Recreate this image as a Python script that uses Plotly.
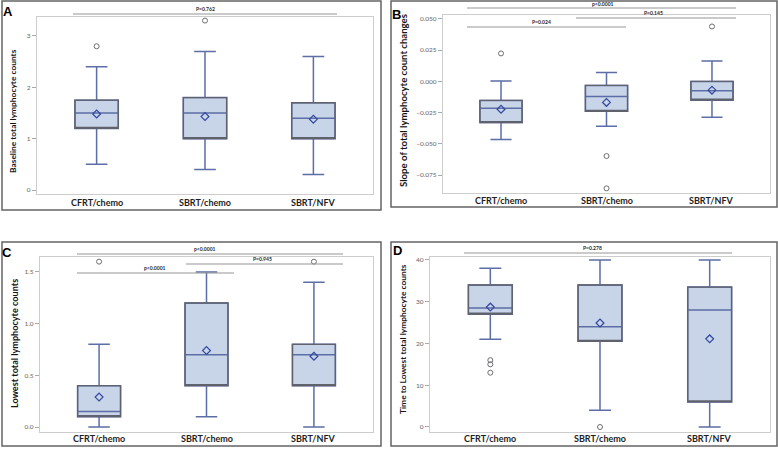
import plotly.graph_objects as go

categories = ["CFRT/chemo", "SBRT/chemo", "SBRT/NFV"]

# Panel A: Baseline total lymphocyte counts
A_q1 = [1.2, 1.0, 1.0]
A_med = [1.5, 1.5, 1.4]
A_q3 = [1.75, 1.8, 1.7]
A_lo = [0.5, 0.4, 0.3]
A_hi = [2.4, 2.7, 2.6]
A_mean = [1.48, 1.43, 1.38]
A_out_x = ["CFRT/chemo", "SBRT/chemo"]
A_out_y = [2.8, 3.3]

# Panel B: Slope of total lymphocyte count changes
B_q1 = [-0.033, -0.024, -0.015]
B_med = [-0.0215, -0.012, -0.0075]
B_q3 = [-0.0152, -0.0032, 0.0]
B_lo = [-0.0465, -0.036, -0.0288]
B_hi = [0.0003, 0.0072, 0.0163]
B_mean = [-0.0223, -0.0168, -0.007]
B_out_x = ["CFRT/chemo", "SBRT/chemo", "SBRT/chemo", "SBRT/NFV"]
B_out_y = [0.0224, -0.0598, -0.0857, 0.044]

# Panel C: Lowest total lymphocyte counts
C_q1 = [0.10, 0.40, 0.40]
C_med = [0.15, 0.70, 0.70]
C_q3 = [0.40, 1.20, 0.80]
C_lo = [0.0, 0.10, 0.0]
C_hi = [0.80, 1.50, 1.40]
C_mean = [0.29, 0.74, 0.685]
C_out_x = ["CFRT/chemo", "SBRT/NFV"]
C_out_y = [1.6, 1.6]

# Panel D: Time to lowest total lymphocyte counts
D_q1 = [27.0, 20.5, 6.0]
D_med = [28.5, 24.0, 28.0]
D_q3 = [34.0, 34.0, 33.5]
D_lo = [21.0, 4.0, 0.0]
D_hi = [38.0, 40.0, 40.0]
D_mean = [28.7, 24.9, 21.1]
D_out_x = ["CFRT/chemo", "CFRT/chemo", "CFRT/chemo", "SBRT/chemo"]
D_out_y = [16.0, 15.0, 13.0, 0.0]

panels = [
    dict(key="", letter="A", q1=A_q1, med=A_med, q3=A_q3, lo=A_lo, hi=A_hi, mean=A_mean,
         ox=A_out_x, oy=A_out_y, title="Baseline total lymphocyte counts",
         yrange=[-0.078, 3.37], tickvals=[0, 1, 2, 3], fmt="d"),
    dict(key="2", letter="B", q1=B_q1, med=B_med, q3=B_q3, lo=B_lo, hi=B_hi, mean=B_mean,
         ox=B_out_x, oy=B_out_y, title="Slope of total lymphocyte count changes",
         yrange=[-0.0894, 0.0532], tickvals=[-0.075, -0.05, -0.025, 0, 0.025, 0.05], fmt=".3f"),
    dict(key="3", letter="C", q1=C_q1, med=C_med, q3=C_q3, lo=C_lo, hi=C_hi, mean=C_mean,
         ox=C_out_x, oy=C_out_y, title="Lowest total lymphocyte counts",
         yrange=[-0.048, 1.645], tickvals=[0, 0.5, 1.0, 1.5], fmt=".1f"),
    dict(key="4", letter="D", q1=D_q1, med=D_med, q3=D_q3, lo=D_lo, hi=D_hi, mean=D_mean,
         ox=D_out_x, oy=D_out_y, title="Time to Lowest total lymphocyte counts",
         yrange=[-1.2, 40.7], tickvals=[0, 10, 20, 30, 40], fmt="d"),
]

W, H = 778, 449
def px(x):
    return x / W
def py(y):
    return 1 - y / H

# plot-area pixel boxes (x0, x1, ytop, ybottom)
areas = [(37, 373, 17, 194), (443, 770, 15, 193), (40, 373, 257, 432), (430, 770, 257, 432)]
frames = [(2, 381, 1, 210), (391, 777, 1, 207), (2, 381, 242, 446), (391, 777, 242, 446)]
letters_pos = [(8, 12), (396, 14), (7, 252), (398, 250)]
ytitle_pos = [(13, 111), (403, 100), (14, 344), (403, 339)]
ytitle_size = [8.4, 9.6, 9.1, 8.4]
catlabel_y = [202, 200, 438, 438]

FILL = "rgb(200,212,231)"
WHISK = "rgb(92,110,165)"
EDGE = "rgb(95,97,108)"
MEANC = "rgb(50,70,160)"
OUTC = "rgb(110,110,115)"
FONT = "Lato"

fig = go.Figure()
layout = dict(width=W, height=H, margin=dict(l=0, r=0, t=0, b=0),
              paper_bgcolor="white", plot_bgcolor="white", showlegend=False,
              boxmode="overlay", shapes=[], annotations=[], hovermode=False)

for i, p in enumerate(panels):
    k = p["key"]
    xa, ya = "x" + k, "y" + k
    fig.add_trace(go.Box(x=categories, q1=p["q1"], median=p["med"], q3=p["q3"],
                         lowerfence=p["lo"], upperfence=p["hi"], width=0.4,
                         whiskerwidth=0.5, fillcolor=FILL, line=dict(color=WHISK, width=1.5),
                         xaxis=xa, yaxis=ya, hoverinfo="skip"))
    # box outline in dark grey
    fig.add_trace(go.Box(x=categories, q1=p["q1"], median=p["q1"], q3=p["q3"],
                         lowerfence=p["q1"], upperfence=p["q3"], width=0.4,
                         whiskerwidth=0, fillcolor="rgba(0,0,0,0)", line=dict(color=EDGE, width=1.3),
                         xaxis=xa, yaxis=ya, hoverinfo="skip"))
    fig.add_trace(go.Scatter(x=categories, y=p["mean"], mode="markers",
                             marker=dict(symbol="diamond-open", size=6, color=MEANC,
                                         line=dict(width=1.2, color=MEANC)),
                             xaxis=xa, yaxis=ya, hoverinfo="skip"))
    fig.add_trace(go.Scatter(x=p["ox"], y=p["oy"], mode="markers",
                             marker=dict(symbol="circle-open", size=5, color=OUTC,
                                         line=dict(width=1, color=OUTC)),
                             xaxis=xa, yaxis=ya, hoverinfo="skip"))
    x0, x1, yt, yb = areas[i]
    xname = "xaxis" + k
    yname = "yaxis" + k
    layout[xname] = dict(domain=[px(x0), px(x1)], anchor=ya, type="category",
                         categoryorder="array", categoryarray=categories,
                         range=[-0.55, 2.55], showline=True, mirror=True,
                         linecolor="rgb(205,205,205)", linewidth=1.3, showgrid=False,
                         ticks="", zeroline=False, showticklabels=False)
    layout[yname] = dict(domain=[py(yb), py(yt)], anchor=xa, range=p["yrange"],
                         tickvals=p["tickvals"], tickformat=p["fmt"], showline=True, mirror=True,
                         linecolor="rgb(205,205,205)", linewidth=1.3, showgrid=False,
                         zeroline=False, ticks="outside", ticklen=4, tickcolor="rgb(170,170,170)",
                         tickfont=dict(family=FONT, size=6.5, color="rgb(100,100,100)"))
    # category labels
    for c in categories:
        layout["annotations"].append(dict(text=c, xref=xa, yref="paper", x=c, y=py(catlabel_y[i]),
                                          showarrow=False, xanchor="center", yanchor="middle",
                                          font=dict(family=FONT, size=9, color="rgb(30,30,30)", weight="bold")))
    fx0, fx1, fy0, fy1 = frames[i]
    layout["shapes"].append(dict(type="rect", xref="paper", yref="paper",
                                 x0=px(fx0), x1=px(fx1), y0=py(fy1), y1=py(fy0),
                                 line=dict(color="rgb(100,100,100)", width=1.5)))
    lx, ly = letters_pos[i]
    layout["annotations"].append(dict(text=p["letter"], xref="paper", yref="paper",
                                      x=px(lx), y=py(ly), showarrow=False, xanchor="center", yanchor="middle",
                                      font=dict(family="Liberation Sans", size=13, color="black", weight="bold")))
    tx, ty = ytitle_pos[i]
    layout["annotations"].append(dict(text=p["title"], xref="paper", yref="paper", textangle=-90,
                                      x=px(tx), y=py(ty), showarrow=False, xanchor="center", yanchor="middle",
                                      font=dict(family=FONT, size=ytitle_size[i], color="rgb(20,20,20)", weight="bold")))

# significance brackets: (x0, x1, y_line, label, label_x, label_y) in pixels
pvals = [
    (73, 337, 14, "P=0.762", 205, 9),
    (467, 736, 8, "p<0.0001", 603, 4),
    (576, 736, 18, "P=0.145", 653, 13),
    (467, 626, 27, "P=0.024", 541, 22),
    (77, 343, 254, "p<0.0001", 205, 249),
    (186, 343, 264, "P=0.945", 262, 259),
    (77, 234, 273, "p<0.0001", 155, 268),
    (464, 732, 253, "P=0.278", 592, 248),
]
for x0, x1, yl, lab, tx, ty in pvals:
    layout["shapes"].append(dict(type="line", xref="paper", yref="paper",
                                 x0=px(x0), x1=px(x1), y0=py(yl), y1=py(yl),
                                 line=dict(color="rgb(150,150,150)", width=1.2)))
    layout["annotations"].append(dict(text=lab, xref="paper", yref="paper", x=px(tx), y=py(ty),
                                      showarrow=False, xanchor="center", yanchor="middle",
                                      font=dict(family=FONT, size=5, color="rgb(40,40,40)", weight="bold")))

fig.update_layout(**layout)
fig.write_html("out.html", config={"displayModeBar": False},
               post_script="document.body.style.margin='0';document.body.style.overflow='hidden';")
